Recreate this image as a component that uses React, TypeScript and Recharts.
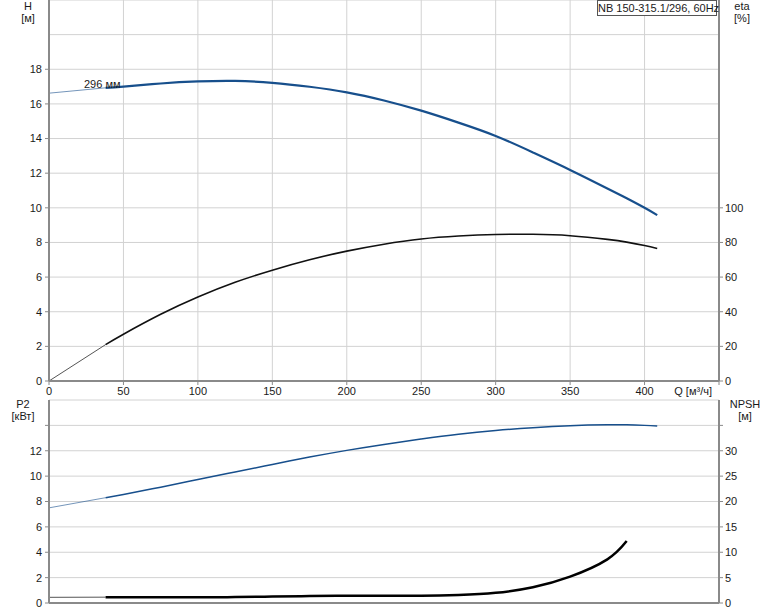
import {
  CartesianGrid,
  ComposedChart,
  Line,
  XAxis,
  YAxis
} from "recharts";

// flow rate, m³/h
const Q = [0, 38, 50, 75, 100, 125, 150, 175, 200, 225, 250, 275, 300, 325, 350, 375, 388, 400, 408.5];
// head, m
const HEAD = [16.62, 16.93, 17.0, 17.18, 17.3, 17.33, 17.22, 16.99, 16.67, 16.2, 15.61, 14.92, 14.15, 13.2, 12.19, 11.12, 10.55, 10.0, 9.58];
// efficiency, %
const ETA = [0, 21, 27, 38.5, 48.5, 57, 64, 70, 75, 79, 82, 83.7, 84.6, 84.7, 83.9, 81.8, 80.2, 78.2, 76.5];
// shaft power, kW
const P2 = [7.5, 8.3, 8.56, 9.13, 9.74, 10.33, 10.92, 11.5, 12.03, 12.5, 12.92, 13.3, 13.6, 13.82, 13.97, 14.04, 14.04, 14.0, 13.95];
// NPSH, m
const NPSH = [1.12, 1.15, 1.15, 1.13, 1.12, 1.17, 1.27, 1.37, 1.43, 1.43, 1.45, 1.6, 2.0, 3.1, 5.2, 8.6, 12.2, null, null];

const X_TICKS = [0, 50, 100, 150, 200, 250, 300, 350, 400, 450];
const H_TICKS = [0, 2, 4, 6, 8, 10, 12, 14, 16, 18];
const H_GRID = [0, 2, 4, 6, 8, 10, 12, 14, 16, 18, 20, 22];
const ETA_TICKS = [0, 20, 40, 60, 80, 100];
const P2_TICKS = [0, 2, 4, 6, 8, 10, 12, 14];
const NPSH_TICKS = [0, 5, 10, 15, 20, 25, 30, 35];

// below this flow the curves are drawn thin
const SPLIT_Q = 38;

const rows = Q.map((q, i) => ({
  q,
  hThin: q <= SPLIT_Q ? HEAD[i] : null,
  hMain: q >= SPLIT_Q ? HEAD[i] : null,
  etaThin: q <= SPLIT_Q ? ETA[i] : null,
  etaMain: q >= SPLIT_Q ? ETA[i] : null,
  p2Thin: q <= SPLIT_Q ? P2[i] : null,
  p2Main: q >= SPLIT_Q ? P2[i] : null,
  npshThin: q <= SPLIT_Q ? NPSH[i] : null,
  npshMain: q >= SPLIT_Q ? NPSH[i] : null
}));

const AXIS = "#8a8a8a";
const GRID = "#d2d2d2";
const BLUE = "#174f8c";
const TICK = { fontSize: 11, fill: "#1a1a1a" };

const txt: React.CSSProperties = {
  position: "absolute",
  fontSize: 11,
  color: "#1a1a1a",
  textAlign: "center",
  lineHeight: "12px",
  whiteSpace: "nowrap"
};

export default function App() {
  return (
    <div
      style={{
        position: "absolute",
        left: 0,
        top: 0,
        width: 774,
        height: 611,
        background: "#fff",
        fontFamily: "'Liberation Sans', Arial, sans-serif"
      }}
    >
      <ComposedChart data={rows} height={398} margin={{ top: 0, right: 0, bottom: 0, left: 0 }} width={774}>
        <CartesianGrid horizontalValues={H_GRID} stroke={GRID} xAxisId="q" yAxisId="h" />
        <XAxis
          axisLine={{ stroke: AXIS, strokeWidth: 2 }}
          dataKey="q"
          domain={[0, 450]}
          height={17}
          tick={TICK}
          tickFormatter={(v) => (v >= 450 ? "" : String(v))}
          tickLine={{ stroke: AXIS }}
          tickMargin={2}
          tickSize={4}
          ticks={X_TICKS}
          type="number"
          xAxisId="q"
        />
        <YAxis
          axisLine={{ stroke: AXIS, strokeWidth: 2 }}
          domain={[0, 22]}
          tick={TICK}
          tickLine={{ stroke: AXIS }}
          tickMargin={3}
          tickSize={4}
          ticks={H_TICKS}
          type="number"
          width={49}
          yAxisId="h"
        />
        <YAxis
          axisLine={{ stroke: AXIS, strokeWidth: 2 }}
          domain={[0, 220]}
          orientation="right"
          tick={{ ...TICK, textAnchor: "start" }}
          tickLine={{ stroke: AXIS }}
          tickMargin={2}
          tickSize={4}
          ticks={ETA_TICKS}
          type="number"
          width={55}
          yAxisId="eta"
        />
        <Line dataKey="hThin" dot={false} isAnimationActive={false} stroke={BLUE} strokeOpacity={0.6} strokeWidth={1} type="linear" xAxisId="q" yAxisId="h" />
        <Line dataKey="hMain" dot={false} isAnimationActive={false} stroke={BLUE} strokeWidth={2.2} type="natural" xAxisId="q" yAxisId="h" />
        <Line dataKey="etaThin" dot={false} isAnimationActive={false} stroke="#555" strokeWidth={1} type="linear" xAxisId="q" yAxisId="eta" />
        <Line dataKey="etaMain" dot={false} isAnimationActive={false} stroke="#111" strokeWidth={1.6} type="natural" xAxisId="q" yAxisId="eta" />
      </ComposedChart>

      <ComposedChart data={rows} height={213} margin={{ top: 2, right: 0, bottom: 0, left: 0 }} width={774}>
        <CartesianGrid stroke={GRID} xAxisId="q" yAxisId="p2" />
        <XAxis
          axisLine={{ stroke: AXIS, strokeWidth: 2 }}
          dataKey="q"
          domain={[0, 450]}
          height={8}
          tick={false}
          tickLine={false}
          ticks={X_TICKS}
          type="number"
          xAxisId="q"
        />
        <XAxis
          axisLine={{ stroke: AXIS, strokeWidth: 2 }}
          dataKey="q"
          domain={[0, 450]}
          height={0}
          orientation="top"
          tick={false}
          tickLine={false}
          type="number"
          xAxisId="top"
        />
        <YAxis
          axisLine={{ stroke: AXIS, strokeWidth: 2 }}
          domain={[0, 16]}
          tick={TICK}
          tickFormatter={(v) => (v >= 14 ? "" : String(v))}
          tickLine={{ stroke: AXIS }}
          tickMargin={3}
          tickSize={4}
          ticks={P2_TICKS}
          type="number"
          width={49}
          yAxisId="p2"
        />
        <YAxis
          axisLine={{ stroke: AXIS, strokeWidth: 2 }}
          domain={[0, 40]}
          orientation="right"
          tick={{ ...TICK, textAnchor: "start" }}
          tickFormatter={(v) => (v >= 35 ? "" : String(v))}
          tickLine={{ stroke: AXIS }}
          tickMargin={2}
          tickSize={4}
          ticks={NPSH_TICKS}
          type="number"
          width={55}
          yAxisId="npsh"
        />
        <Line dataKey="p2Thin" dot={false} isAnimationActive={false} stroke={BLUE} strokeOpacity={0.6} strokeWidth={1} type="linear" xAxisId="q" yAxisId="p2" />
        <Line dataKey="p2Main" dot={false} isAnimationActive={false} stroke={BLUE} strokeWidth={1.5} type="natural" xAxisId="q" yAxisId="p2" />
        <Line dataKey="npshThin" dot={false} isAnimationActive={false} stroke="#555" strokeWidth={1} type="linear" xAxisId="q" yAxisId="npsh" />
        <Line dataKey="npshMain" dot={false} isAnimationActive={false} stroke="#000" strokeWidth={2.5} type="natural" xAxisId="q" yAxisId="npsh" />
      </ComposedChart>

      <div style={{ ...txt, left: 13, top: 0, width: 30 }}>H<br />[м]</div>
      <div style={{ ...txt, left: 727, top: 0, width: 30 }}>eta<br />[%]</div>
      <div style={{ ...txt, left: 3, top: 398, width: 40 }}>P2<br />[кВт]</div>
      <div style={{ ...txt, left: 725, top: 398, width: 40 }}>NPSH<br />[м]</div>
      <div style={{ ...txt, left: 652, top: 385, width: 60, textAlign: "right" }}>Q [м³/ч]</div>
      <div style={{ ...txt, left: 84, top: 78, lineHeight: "13px", textAlign: "left" }}>296 мм</div>
      <div
        style={{
          ...txt,
          left: 597,
          top: 0,
          width: 118,
          height: 14,
          lineHeight: "14px",
          border: "1px solid #555",
          background: "#fff"
        }}
      >
        NB 150-315.1/296, 60Hz
      </div>
    </div>
  );
}
